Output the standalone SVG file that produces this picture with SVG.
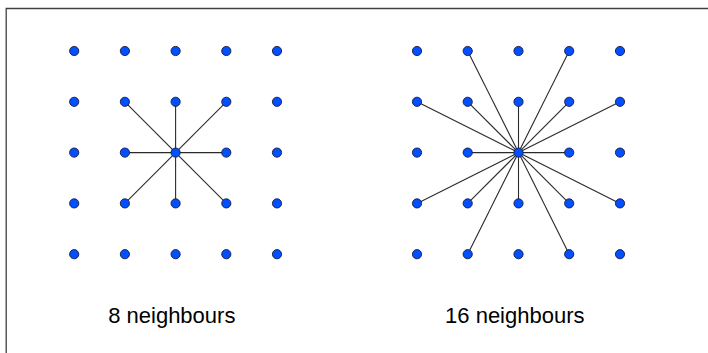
<svg xmlns="http://www.w3.org/2000/svg" width="708" height="353" viewBox="0 0 708 353">
  <style>
    .frame { stroke: #404040; stroke-width: 1.3; fill: none; }
    .edge { stroke: #2a2a2a; stroke-width: 1.1; fill: none; }
    .dot { fill: #0050ff; stroke: #1a1a40; stroke-width: 0.9; }
    .label { font-family: "Liberation Sans", Arial, sans-serif; font-size: 22px; fill: #000; text-anchor: middle; }
  </style>
  <rect width="708" height="353" fill="#fff"/>
  <!-- open frame: top and left edges -->
  <path class="frame" d="M708 8.5 H6.2 V353"/>

  <!-- connectors -->
  <g id="connectors">
    <!-- 8-neighbourhood around (175.6,152.6) -->
    <g id="edges-8">
      <line class="edge" x1="175.6" y1="152.6" x2="124.9" y2="101.8"/>
      <line class="edge" x1="175.6" y1="152.6" x2="175.6" y2="101.8"/>
      <line class="edge" x1="175.6" y1="152.6" x2="226.3" y2="101.8"/>
      <line class="edge" x1="175.6" y1="152.6" x2="124.9" y2="152.6"/>
      <line class="edge" x1="175.6" y1="152.6" x2="226.3" y2="152.6"/>
      <line class="edge" x1="175.6" y1="152.6" x2="124.9" y2="203.4"/>
      <line class="edge" x1="175.6" y1="152.6" x2="175.6" y2="203.4"/>
      <line class="edge" x1="175.6" y1="152.6" x2="226.3" y2="203.4"/>
    </g>
    <!-- 16-neighbourhood around (518.5,152.6) -->
    <g id="edges-16">
      <line class="edge" x1="518.5" y1="152.6" x2="467.7" y2="101.8"/>
      <line class="edge" x1="518.5" y1="152.6" x2="518.5" y2="101.8"/>
      <line class="edge" x1="518.5" y1="152.6" x2="569.2" y2="101.8"/>
      <line class="edge" x1="518.5" y1="152.6" x2="467.7" y2="152.6"/>
      <line class="edge" x1="518.5" y1="152.6" x2="569.2" y2="152.6"/>
      <line class="edge" x1="518.5" y1="152.6" x2="467.7" y2="203.4"/>
      <line class="edge" x1="518.5" y1="152.6" x2="518.5" y2="203.4"/>
      <line class="edge" x1="518.5" y1="152.6" x2="569.2" y2="203.4"/>
      <line class="edge" x1="518.5" y1="152.6" x2="467.7" y2="51"/>
      <line class="edge" x1="518.5" y1="152.6" x2="569.2" y2="51"/>
      <line class="edge" x1="518.5" y1="152.6" x2="417" y2="101.8"/>
      <line class="edge" x1="518.5" y1="152.6" x2="620" y2="101.8"/>
      <line class="edge" x1="518.5" y1="152.6" x2="417" y2="203.4"/>
      <line class="edge" x1="518.5" y1="152.6" x2="620" y2="203.4"/>
      <line class="edge" x1="518.5" y1="152.6" x2="467.7" y2="254.2"/>
      <line class="edge" x1="518.5" y1="152.6" x2="569.2" y2="254.2"/>
    </g>
  </g>

  <!-- left grid: columns 74.2..277, rows 51..254.2 -->
  <g id="grid-left">
    <g id="L-0-0"><circle class="dot" cx="74.2" cy="51" r="4.6"/></g>
    <g id="L-1-0"><circle class="dot" cx="124.9" cy="51" r="4.6"/></g>
    <g id="L-2-0"><circle class="dot" cx="175.6" cy="51" r="4.6"/></g>
    <g id="L-3-0"><circle class="dot" cx="226.3" cy="51" r="4.6"/></g>
    <g id="L-4-0"><circle class="dot" cx="277" cy="51" r="4.6"/></g>
    <g id="L-0-1"><circle class="dot" cx="74.2" cy="101.8" r="4.6"/></g>
    <g id="L-1-1"><circle class="dot" cx="124.9" cy="101.8" r="4.6"/></g>
    <g id="L-2-1"><circle class="dot" cx="175.6" cy="101.8" r="4.6"/></g>
    <g id="L-3-1"><circle class="dot" cx="226.3" cy="101.8" r="4.6"/></g>
    <g id="L-4-1"><circle class="dot" cx="277" cy="101.8" r="4.6"/></g>
    <g id="L-0-2"><circle class="dot" cx="74.2" cy="152.6" r="4.6"/></g>
    <g id="L-1-2"><circle class="dot" cx="124.9" cy="152.6" r="4.6"/></g>
    <g id="L-2-2"><circle class="dot" cx="175.6" cy="152.6" r="4.6"/></g>
    <g id="L-3-2"><circle class="dot" cx="226.3" cy="152.6" r="4.6"/></g>
    <g id="L-4-2"><circle class="dot" cx="277" cy="152.6" r="4.6"/></g>
    <g id="L-0-3"><circle class="dot" cx="74.2" cy="203.4" r="4.6"/></g>
    <g id="L-1-3"><circle class="dot" cx="124.9" cy="203.4" r="4.6"/></g>
    <g id="L-2-3"><circle class="dot" cx="175.6" cy="203.4" r="4.6"/></g>
    <g id="L-3-3"><circle class="dot" cx="226.3" cy="203.4" r="4.6"/></g>
    <g id="L-4-3"><circle class="dot" cx="277" cy="203.4" r="4.6"/></g>
    <g id="L-0-4"><circle class="dot" cx="74.2" cy="254.2" r="4.6"/></g>
    <g id="L-1-4"><circle class="dot" cx="124.9" cy="254.2" r="4.6"/></g>
    <g id="L-2-4"><circle class="dot" cx="175.6" cy="254.2" r="4.6"/></g>
    <g id="L-3-4"><circle class="dot" cx="226.3" cy="254.2" r="4.6"/></g>
    <g id="L-4-4"><circle class="dot" cx="277" cy="254.2" r="4.6"/></g>
  </g>

  <!-- right grid: columns 417..620 -->
  <g id="grid-right">
    <g id="R-0-0"><circle class="dot" cx="417" cy="51" r="4.6"/></g>
    <g id="R-1-0"><circle class="dot" cx="467.7" cy="51" r="4.6"/></g>
    <g id="R-2-0"><circle class="dot" cx="518.5" cy="51" r="4.6"/></g>
    <g id="R-3-0"><circle class="dot" cx="569.2" cy="51" r="4.6"/></g>
    <g id="R-4-0"><circle class="dot" cx="620" cy="51" r="4.6"/></g>
    <g id="R-0-1"><circle class="dot" cx="417" cy="101.8" r="4.6"/></g>
    <g id="R-1-1"><circle class="dot" cx="467.7" cy="101.8" r="4.6"/></g>
    <g id="R-2-1"><circle class="dot" cx="518.5" cy="101.8" r="4.6"/></g>
    <g id="R-3-1"><circle class="dot" cx="569.2" cy="101.8" r="4.6"/></g>
    <g id="R-4-1"><circle class="dot" cx="620" cy="101.8" r="4.6"/></g>
    <g id="R-0-2"><circle class="dot" cx="417" cy="152.6" r="4.6"/></g>
    <g id="R-1-2"><circle class="dot" cx="467.7" cy="152.6" r="4.6"/></g>
    <g id="R-2-2"><circle class="dot" cx="518.5" cy="152.6" r="4.6"/></g>
    <g id="R-3-2"><circle class="dot" cx="569.2" cy="152.6" r="4.6"/></g>
    <g id="R-4-2"><circle class="dot" cx="620" cy="152.6" r="4.6"/></g>
    <g id="R-0-3"><circle class="dot" cx="417" cy="203.4" r="4.6"/></g>
    <g id="R-1-3"><circle class="dot" cx="467.7" cy="203.4" r="4.6"/></g>
    <g id="R-2-3"><circle class="dot" cx="518.5" cy="203.4" r="4.6"/></g>
    <g id="R-3-3"><circle class="dot" cx="569.2" cy="203.4" r="4.6"/></g>
    <g id="R-4-3"><circle class="dot" cx="620" cy="203.4" r="4.6"/></g>
    <g id="R-0-4"><circle class="dot" cx="417" cy="254.2" r="4.6"/></g>
    <g id="R-1-4"><circle class="dot" cx="467.7" cy="254.2" r="4.6"/></g>
    <g id="R-2-4"><circle class="dot" cx="518.5" cy="254.2" r="4.6"/></g>
    <g id="R-3-4"><circle class="dot" cx="569.2" cy="254.2" r="4.6"/></g>
    <g id="R-4-4"><circle class="dot" cx="620" cy="254.2" r="4.6"/></g>
  </g>

  <text class="label" x="171.8" y="322.5">8 neighbours</text>
  <text class="label" x="514.8" y="322.5">16 neighbours</text>
</svg>
